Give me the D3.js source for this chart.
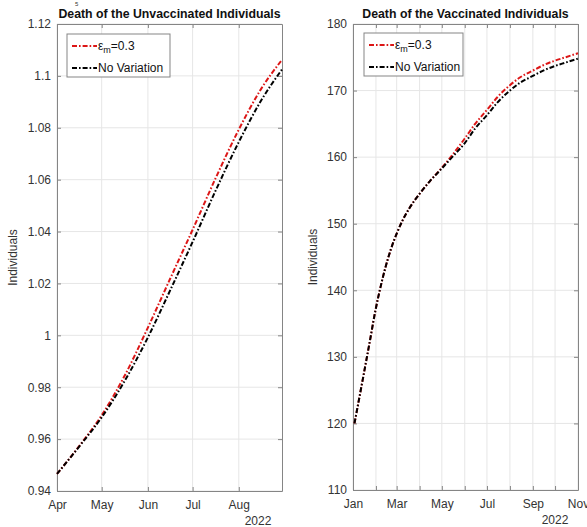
<!DOCTYPE html>
<html>
<head>
<meta charset="utf-8">
<script src="https://cdn.jsdelivr.net/npm/d3@7/dist/d3.min.js"></script>
<style>
  html, body { margin: 0; padding: 0; background: #fff; }
  svg { display: block; font-family: "Liberation Sans", Arial, sans-serif; }
</style>
</head>
<body>
<svg id="chart" width="587" height="527"></svg>
<script>
// Cumulative deaths, unvaccinated (x10^5), Apr–Aug 2022
const unvaxDates = ["2022-04-01","2022-04-16","2022-05-01","2022-05-16","2022-06-01","2022-06-16",
                    "2022-07-01","2022-07-16","2022-08-01","2022-08-16","2022-08-30"];
const unvaxEps   = [0.9466, 0.9574, 0.9692, 0.9840, 1.0030, 1.0219, 1.0407, 1.0600, 1.0793, 1.0950, 1.1062];
const unvaxBase  = [0.9466, 0.9572, 0.9684, 0.9820, 0.9992, 1.0174, 1.0360, 1.0552, 1.0745, 1.0905, 1.1025];
const unvaxYTicks = [0.94, 0.96, 0.98, 1.00, 1.02, 1.04, 1.06, 1.08, 1.10, 1.12];

// Cumulative deaths, vaccinated, Jan–Nov 2022
const vaxDates = ["2022-01-03","2022-01-14","2022-01-24","2022-01-31","2022-02-07","2022-02-14","2022-02-21",
                  "2022-03-01","2022-03-09","2022-03-18","2022-04-01","2022-04-15","2022-05-01","2022-05-15",
                  "2022-06-01","2022-06-15","2022-07-01","2022-07-15","2022-08-01","2022-08-15","2022-09-01",
                  "2022-09-15","2022-10-01","2022-10-15","2022-11-01"];
const vaxEps  = [120, 126.5, 132.5, 136.8, 140.4, 143.5, 146.1, 148.5, 150.5, 152.3, 154.5, 156.4, 158.4, 160.3,
                 162.8, 165.0, 167.1, 169.0, 170.8, 172.0, 173.0, 173.8, 174.5, 175.0, 175.6];
const vaxBase = [120, 126.5, 132.5, 136.8, 140.4, 143.5, 146.1, 148.5, 150.5, 152.3, 154.5, 156.4, 158.3, 160.0,
                 162.1, 164.3, 166.3, 168.2, 170.0, 171.2, 172.2, 173.0, 173.7, 174.2, 174.8];
const vaxYTicks = [110, 120, 130, 140, 150, 160, 170, 180];

const seriesNames = ["=0.3", "No Variation"];
const seriesColors = ["#dc1616", "#000000"];

const parse = d3.timeParse("%Y-%m-%d");
const svg = d3.select("#chart");
const AXIS = "#858585", TEXT = "#333333", GRID = "#e6e6e6";
const DASH = "5,2,1.6,2";
const FONT = "'Liberation Sans', Arial, sans-serif";

function panel(cfg) {
  const x = d3.scaleTime().domain(cfg.xDomain.map(parse)).range([cfg.left, cfg.right]);
  const y = d3.scaleLinear().domain(cfg.yDomain).range([cfg.bottom, cfg.top]);
  const g = svg.append("g");

  const months = d3.timeMonth.range(x.domain()[0], d3.timeDay.offset(x.domain()[1], 1));

  // grid
  g.append("g").selectAll("line").data(months).join("line")
    .attr("x1", d => x(d)).attr("x2", d => x(d))
    .attr("y1", cfg.top).attr("y2", cfg.bottom)
    .attr("stroke", GRID).attr("stroke-width", 1);
  g.append("g").selectAll("line").data(cfg.yTicks).join("line")
    .attr("x1", cfg.left).attr("x2", cfg.right)
    .attr("y1", d => y(d)).attr("y2", d => y(d))
    .attr("stroke", GRID).attr("stroke-width", 1);

  const styleAxis = sel => {
    sel.select(".domain").attr("stroke", AXIS);
    sel.selectAll(".tick line").attr("stroke", AXIS);
    sel.selectAll(".tick text").attr("fill", TEXT).style("font-size", "12px").style("font-family", FONT);
  };

  const fmt = d3.timeFormat("%b");
  g.append("g").attr("transform", `translate(0,${cfg.bottom})`)
    .call(d3.axisBottom(x).tickValues(months).tickSizeInner(-4).tickSizeOuter(0).tickPadding(9)
      .tickFormat((d, i) => (i % cfg.labelEvery === 0 ? fmt(d) : "")))
    .call(styleAxis);
  g.append("g").attr("transform", `translate(0,${cfg.top})`)
    .call(d3.axisTop(x).tickValues(months).tickSizeInner(-4).tickSizeOuter(0).tickFormat(""))
    .call(styleAxis);
  g.append("g").attr("transform", `translate(${cfg.left},0)`)
    .call(d3.axisLeft(y).tickValues(cfg.yTicks).tickSizeInner(-4).tickSizeOuter(0).tickPadding(6)
      .tickFormat(d => String(+d.toFixed(2))))
    .call(styleAxis);
  g.append("g").attr("transform", `translate(${cfg.right},0)`)
    .call(d3.axisRight(y).tickValues(cfg.yTicks).tickSizeInner(-4).tickSizeOuter(0).tickFormat(""))
    .call(styleAxis);

  // year label
  g.append("text").attr("x", cfg.yearX).attr("y", cfg.bottom + 34)
    .attr("text-anchor", "middle").attr("fill", TEXT).style("font-size", "12px").text("2022");

  // y label
  g.append("text")
    .attr("transform", `translate(${cfg.yLabelX},${(cfg.top + cfg.bottom) / 2}) rotate(-90)`)
    .attr("text-anchor", "middle").attr("fill", TEXT).style("font-size", "12px").text("Individuals");

  if (cfg.exponent) {
    g.append("text").attr("x", cfg.left + 18).attr("y", 6)
      .attr("fill", TEXT).style("font-size", "6px").text(cfg.exponent);
  }

  // title
  g.append("text").attr("x", (cfg.left + cfg.right) / 2).attr("y", cfg.top - 6)
    .attr("text-anchor", "middle").attr("fill", "#111").style("font-size", "12.3px")
    .style("font-weight", "bold").text(cfg.title);

  // curves (varied scenario first, baseline drawn over it)
  const dates = cfg.dates.map(parse);
  const line = d3.line().x(d => x(d[0])).y(d => y(d[1])).curve(d3.curveMonotoneX);
  [[cfg.eps, seriesColors[0]], [cfg.base, seriesColors[1]]].forEach(([vals, col]) => {
    g.append("path").datum(dates.map((d, i) => [d, vals[i]]))
      .attr("d", line).attr("fill", "none")
      .attr("stroke", col).attr("stroke-width", 2).attr("stroke-dasharray", DASH);
  });

  // legend
  const L = cfg.legend;
  const lg = g.append("g").attr("transform", `translate(${L.x},${L.y})`);
  lg.append("rect").attr("width", L.w).attr("height", 43).attr("fill", "#fff")
    .attr("stroke", AXIS).attr("stroke-width", 1);
  [0, 1].forEach(k => {
    const yy = 12 + k * 22;
    lg.append("line").attr("x1", 5).attr("x2", 30).attr("y1", yy).attr("y2", yy)
      .attr("stroke", seriesColors[k]).attr("stroke-width", 2).attr("stroke-dasharray", DASH);
    const t = lg.append("text").attr("x", 31).attr("y", yy + 4).attr("fill", "#111")
      .style("font-size", "12px");
    if (k === 0) {
      t.append("tspan").text("\u03B5");
      t.append("tspan").attr("dy", 3).style("font-size", "9px").text("m");
      t.append("tspan").attr("dy", -3).text(seriesNames[0]);
    } else {
      t.text(seriesNames[1]);
    }
  });
}

panel({
  title: "Death of the Unvaccinated Individuals",
  left: 57, right: 282, top: 24, bottom: 491,
  xDomain: ["2022-04-01", "2022-08-30"], yDomain: [0.94, 1.12], yTicks: unvaxYTicks,
  labelEvery: 1, yearX: 258, yLabelX: 17, exponent: "5",
  dates: unvaxDates, eps: unvaxEps, base: unvaxBase,
  legend: { x: 67, y: 34, w: 103 }
});

panel({
  title: "Death of the Vaccinated Individuals",
  left: 353, right: 578, top: 24, bottom: 490,
  xDomain: ["2022-01-01", "2022-11-01"], yDomain: [110, 180], yTicks: vaxYTicks,
  labelEvery: 2, yearX: 555, yLabelX: 317,
  dates: vaxDates, eps: vaxEps, base: vaxBase,
  legend: { x: 364, y: 33, w: 99 }
});
</script>
</body>
</html>
